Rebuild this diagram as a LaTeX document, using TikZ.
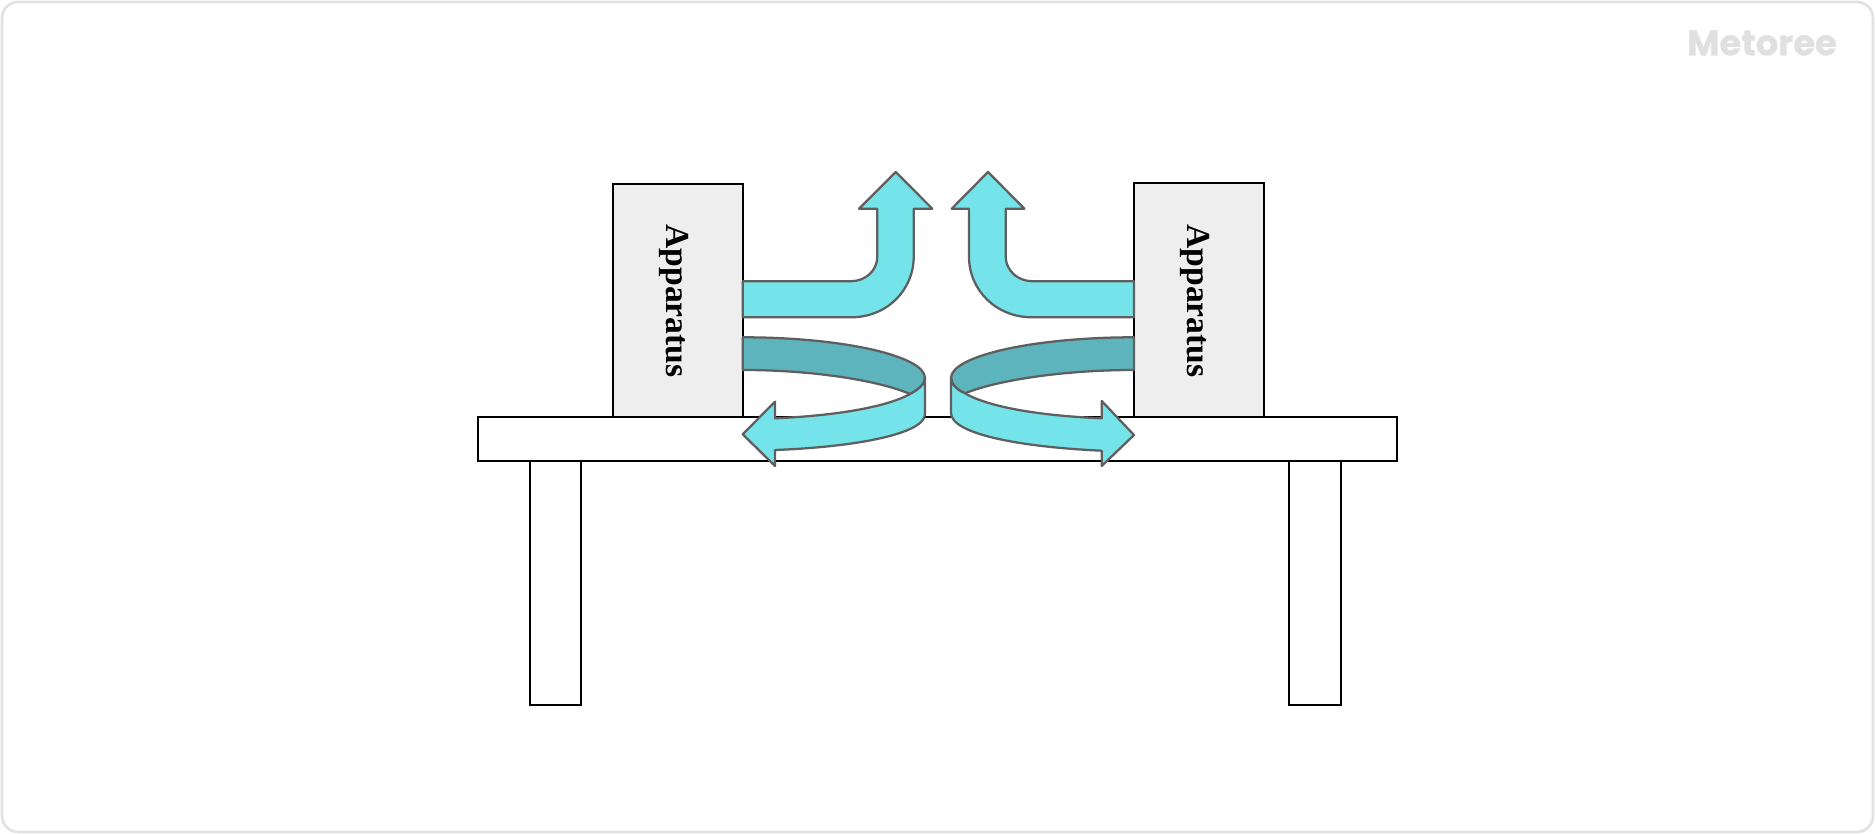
\documentclass[tikz,border=0pt]{standalone}
\usepackage{fontspec}
\setmainfont{Liberation Serif}
\newfontfamily\brandfont[FakeBold=0.6]{Poppins}
\definecolor{flowlight}{HTML}{75E3EA}
\definecolor{flowdark}{HTML}{5DB4BC}
\definecolor{flowline}{HTML}{5F5F5F}
\definecolor{panel}{HTML}{EEEEEE}
\definecolor{framegrey}{HTML}{E2E2E2}
\definecolor{brandgrey}{HTML}{E0E0E0}
\tikzset{
  furniture/.style={draw=black,line width=1.5pt,fill=white,line join=miter},
  cabinet/.style={draw=black,line width=1.5pt,fill=panel,line join=miter},
  flowfront/.style={draw=flowline,line width=1.7pt,fill=flowlight,line join=round},
  flowback/.style={draw=flowline,line width=1.7pt,fill=flowdark,line join=round},
  caption/.style={font=\fontsize{25.2}{30}\selectfont\bfseries,text=black,rotate=-90,inner sep=0pt}
}
\begin{document}
\begin{tikzpicture}[x=0.75pt,y=-0.75pt]
\useasboundingbox (0,0) rectangle (1875,834);
% page frame
\draw[framegrey,line width=2pt,fill=white,rounded corners=12pt] (2,2) rectangle (1873,832);
\node[font=\brandfont\fontsize{26.5}{32}\selectfont\bfseries,text=brandgrey,inner sep=0pt] (brand) at (1762,43) {Metoree};

% table top and legs
\draw[furniture] (529.5,460.5) rectangle (581,704.5);
\draw[furniture] (1289,460.5) rectangle (1341,704.5);
\draw[furniture] (477.5,417) rectangle (1397,460.5);

% apparatus cabinets
\draw[cabinet] (612.7,184) rectangle (742.7,417);
\draw[cabinet] (1134,183.5) rectangle (1264,416.5);
\node[caption] (leftlabel) at (674,301) {Apparatus};
\node[caption] (rightlabel) at (1195,301) {Apparatus};

% exhaust rising from the left cabinet
\draw[flowfront] (742.7,281.2) -- (851,281.2)
  .. controls (865.5,281.2) and (877.3,270.5) .. (877.3,256.7)
  -- (877.3,208.7) -- (859,208.7) -- (895.7,172) -- (932.3,208.7) -- (913.7,208.7) -- (913.7,256.7)
  .. controls (913.7,290) and (887,317.3) .. (851,317.3)
  -- (742.7,317.3) -- cycle;

% exhaust rising from the right cabinet
\draw[flowfront] (1134,281.2) -- (1032,281.2)
  .. controls (1018,281.2) and (1005.7,270.5) .. (1005.7,256.7)
  -- (1005.7,208.7) -- (1024.4,208.7) -- (988,172) -- (951.7,208.7) -- (969,208.7) -- (969,256.7)
  .. controls (969,290) and (996,317.3) .. (1032,317.3)
  -- (1134,317.3) -- cycle;

% swirl returning to the left cabinet
\draw[flowback] (742.7,337.3) .. controls (843,337.3) and (925,356) .. (925,378)
  .. controls (925,384) and (918,390) .. (910,394)
  .. controls (880,381) and (815,370) .. (742.7,370) -- cycle;
\draw[flowfront] (925,378) .. controls (925,384) and (918,390) .. (910,394)
  .. controls (885,408) and (830,416) .. (775,418.3)
  -- (775,401.7) -- (742.7,434.3) -- (775,466) -- (775,450)
  .. controls (855,447) and (925,434) .. (925,414) -- cycle;

% swirl returning to the right cabinet
\draw[flowback] (1134,337.3) .. controls (1033,337.3) and (951,356) .. (951,378)
  .. controls (951,384) and (957,390) .. (965,393.3)
  .. controls (995,381) and (1060,370) .. (1134,370) -- cycle;
\draw[flowfront] (951,378) .. controls (951,384) and (957,390) .. (965,393.3)
  .. controls (990,408) and (1045,416) .. (1101.7,418.3)
  -- (1101.7,401) -- (1134,435) -- (1101.7,466) -- (1101.7,450.7)
  .. controls (1020,447) and (951,434) .. (951,413) -- cycle;
\end{tikzpicture}
\end{document}
